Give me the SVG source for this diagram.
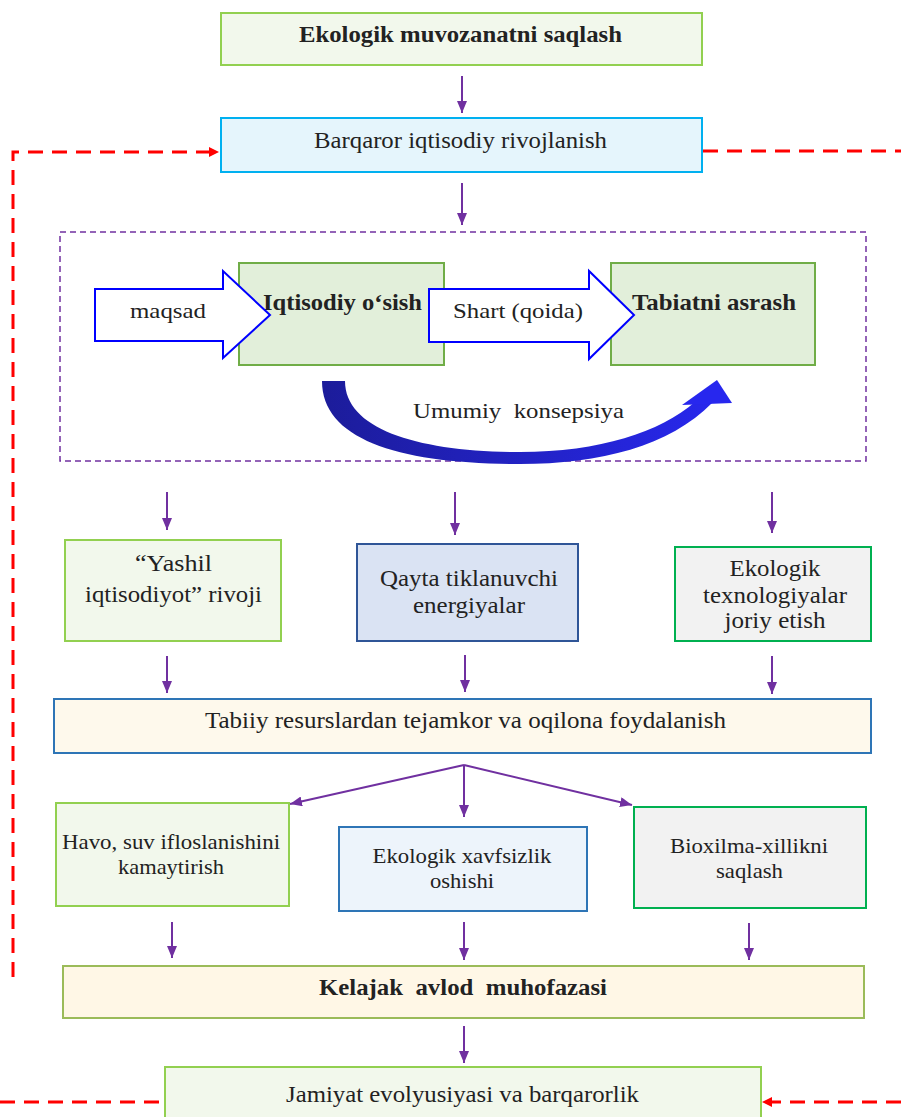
<svg xmlns="http://www.w3.org/2000/svg" width="901" height="1117" viewBox="0 0 901 1117">
<style>
text{font-family:'Liberation Serif','Times New Roman',Times,serif;fill:#222;font-size:23px;text-anchor:middle;white-space:pre}
.b{font-weight:bold;font-size:24px}
.s{font-size:22px}
.g{fill:#f2f8ec;stroke:#92d050;stroke-width:2}
.gd{fill:#e2efda;stroke:#70ad47;stroke-width:2}
.pl{stroke:#7030a0;stroke-width:2;fill:none;marker-end:url(#pa)}
.rd{stroke:#ff0000;stroke-width:3;fill:none;stroke-dasharray:15 9}
.ba{fill:#fff;stroke:#0000ff;stroke-width:2}
</style>
<defs>
<marker id="pa" viewBox="0 0 12 10" refX="12" refY="5" markerWidth="12" markerHeight="10" markerUnits="userSpaceOnUse" orient="auto"><path d="M0,0 L12,5 L0,10 Z" fill="#7030a0"/></marker>
<marker id="ra" viewBox="0 0 10 10" refX="10" refY="5" markerWidth="10" markerHeight="10" markerUnits="userSpaceOnUse" orient="auto"><path d="M0,0 L10,5 L0,10 Z" fill="#ff0000"/></marker>
<linearGradient id="cg" x1="322" y1="0" x2="732" y2="0" gradientUnits="userSpaceOnUse"><stop offset="0" stop-color="#1c1c9a"/><stop offset="1" stop-color="#2828f0"/></linearGradient>
</defs>

<g id="connectors">
<path class="pl" d="M462,76 V113"/>
<path class="pl" d="M462,183 V225"/>
<path class="pl" d="M167,492 V530"/>
<path class="pl" d="M455,492 V535"/>
<path class="pl" d="M772,492 V533"/>
<path class="pl" d="M167,656 V693"/>
<path class="pl" d="M465,655 V692"/>
<path class="pl" d="M772,656 V694"/>
<path class="pl" d="M464,765 L290,804"/>
<path class="pl" d="M464,765 V817"/>
<path class="pl" d="M464,765 L632,805"/>
<path class="pl" d="M172,922 V958"/>
<path class="pl" d="M464,922 V960"/>
<path class="pl" d="M749,923 V960"/>
<path class="pl" d="M464,1026 V1063"/>
<path class="rd" d="M13,977 V152 H219" marker-end="url(#ra)"/>
<path class="rd" d="M703,151 H901"/>
<path class="rd" d="M0,1102 H165"/>
<path class="rd" d="M901,1102 H762" marker-end="url(#ra)"/>
</g>

<g id="n1"><rect class="g" x="221" y="13" width="481" height="52"/><text class="b" x="460.5" y="42" textLength="323" lengthAdjust="spacingAndGlyphs">Ekologik muvozanatni saqlash</text></g>
<g id="n2"><rect x="221" y="118" width="481" height="54" fill="#e5f5fc" stroke="#00b0f0" stroke-width="2"/><text x="460.5" y="148" textLength="293" lengthAdjust="spacingAndGlyphs">Barqaror iqtisodiy rivojlanish</text></g>

<g id="concept">
<rect x="60" y="232" width="806" height="229" fill="none" stroke="#7030a0" stroke-width="1.5" stroke-dasharray="6 4"/>
<g id="n3"><rect class="gd" x="239" y="263" width="205" height="102"/><text class="b" x="342.5" y="310" textLength="159" lengthAdjust="spacingAndGlyphs">Iqtisodiy o‘sish</text></g>
<g id="n4"><rect class="gd" x="611" y="263" width="204" height="102"/><text class="b" x="714" y="310" textLength="164" lengthAdjust="spacingAndGlyphs">Tabiatni asrash</text></g>
<g id="a1"><path class="ba" d="M95,289 H223 V271 L270,315 L223,358 V341 H95 Z"/><text class="s" x="168" y="318" textLength="76" lengthAdjust="spacingAndGlyphs">maqsad</text></g>
<g id="a2"><path class="ba" d="M429,289 H589 V271 L634,315 L589,359 V342 H429 Z"/><text class="s" x="518" y="318" textLength="130" lengthAdjust="spacingAndGlyphs">Shart (qoida)</text></g>
<g id="curve">
<path fill="url(#cg)" d="M345,381 C345,430 420,452 520,452 C600,452 660,432 695,402 L712,403 C670,446 600,464 520,464 C400,464 322,440 322,381 Z"/>
<path fill="#2727ee" d="M682,405 L717,380 L732,403 Z"/>
<text class="s" x="518.5" y="418" textLength="211" lengthAdjust="spacingAndGlyphs">Umumiy  konsepsiya</text>
</g>
</g>

<g id="n5"><rect class="g" x="65" y="540" width="216" height="101"/><text x="173.5" y="571" textLength="77" lengthAdjust="spacingAndGlyphs">“Yashil</text><text x="173.5" y="602" textLength="177" lengthAdjust="spacingAndGlyphs">iqtisodiyot” rivoji</text></g>
<g id="n6"><rect x="357" y="544" width="221" height="97" fill="#dae3f3" stroke="#2f5597" stroke-width="2"/><text x="469" y="586" textLength="178" lengthAdjust="spacingAndGlyphs">Qayta tiklanuvchi</text><text x="469" y="613" textLength="112" lengthAdjust="spacingAndGlyphs">energiyalar</text></g>
<g id="n7"><rect x="675" y="547" width="196" height="94" fill="#f2f2f2" stroke="#00b050" stroke-width="2"/><text x="775" y="576" textLength="91" lengthAdjust="spacingAndGlyphs">Ekologik</text><text x="775" y="603" textLength="144" lengthAdjust="spacingAndGlyphs">texnologiyalar</text><text x="775" y="628" textLength="101" lengthAdjust="spacingAndGlyphs">joriy etish</text></g>

<g id="n8"><rect x="54" y="699" width="817" height="54" fill="#fef9ec" stroke="#2e75b6" stroke-width="2"/><text x="465.5" y="728" textLength="521" lengthAdjust="spacingAndGlyphs">Tabiiy resurslardan tejamkor va oqilona foydalanish</text></g>

<g id="n9"><rect class="g" x="56" y="803" width="233" height="103"/><text class="s" x="171" y="849" textLength="218" lengthAdjust="spacingAndGlyphs">Havo, suv ifloslanishini</text><text class="s" x="171" y="874" textLength="106" lengthAdjust="spacingAndGlyphs">kamaytirish</text></g>
<g id="n10"><rect x="339" y="827" width="248" height="84" fill="#edf4fb" stroke="#2e75b6" stroke-width="2"/><text class="s" x="462" y="863" textLength="179" lengthAdjust="spacingAndGlyphs">Ekologik xavfsizlik</text><text class="s" x="462" y="888" textLength="64" lengthAdjust="spacingAndGlyphs">oshishi</text></g>
<g id="n11"><rect x="634" y="807" width="232" height="101" fill="#f2f2f2" stroke="#00b050" stroke-width="2"/><text class="s" x="749" y="853" textLength="158" lengthAdjust="spacingAndGlyphs">Bioxilma-xillikni</text><text class="s" x="749.5" y="878" textLength="67" lengthAdjust="spacingAndGlyphs">saqlash</text></g>

<g id="n12"><rect x="63" y="966" width="801" height="52" fill="#fff7e6" stroke="#9bbb59" stroke-width="2"/><text class="b" x="463" y="995" textLength="288" lengthAdjust="spacingAndGlyphs">Kelajak  avlod  muhofazasi</text></g>
<g id="n13"><rect class="g" x="165" y="1067" width="596" height="60"/><text x="462.5" y="1102" textLength="353" lengthAdjust="spacingAndGlyphs">Jamiyat evolyusiyasi va barqarorlik</text></g>
</svg>
